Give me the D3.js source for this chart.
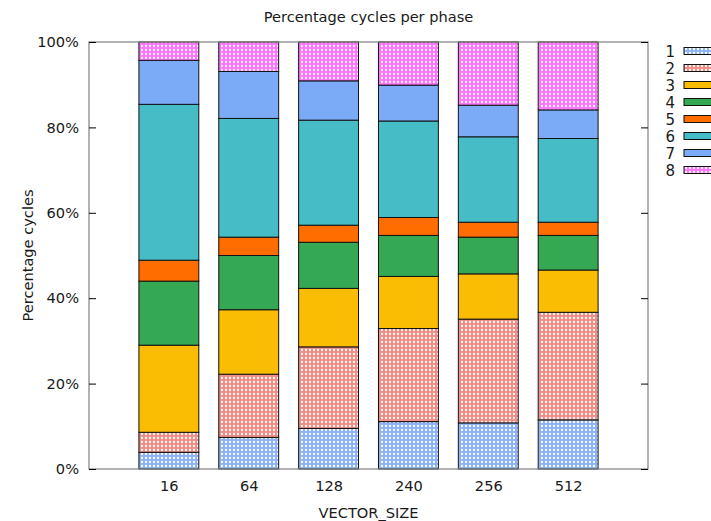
<!DOCTYPE html>
<html>
<head>
<meta charset="utf-8">
<script src="https://cdn.jsdelivr.net/npm/d3@7"></script>
<style>
  body { margin: 0; background: #fff; }
  text { font-family: "DejaVu Sans", sans-serif; fill: #1a1a1a; }
</style>
</head>
<body>
<script>
var sizes = ["16", "64", "128", "240", "256", "512"];
var phases = ["1", "2", "3", "4", "5", "6", "7", "8"];
// percentage of cycles per phase, one array per phase (same order as sizes)
var phase1 = [3.9, 7.4, 9.5, 11.1, 10.8, 11.5];
var phase2 = [4.7, 14.8, 19.1, 21.8, 24.3, 25.2];
var phase3 = [20.4, 15.1, 13.7, 12.2, 10.6, 9.9];
var phase4 = [15.0, 12.7, 10.8, 9.6, 8.6, 8.1];
var phase5 = [4.9, 4.3, 4.0, 4.2, 3.5, 3.1];
var phase6 = [36.5, 27.8, 24.6, 22.6, 20.0, 19.6];
var phase7 = [10.3, 11.0, 9.2, 8.4, 7.4, 6.7];
var phase8 = [4.3, 6.9, 9.1, 10.1, 14.8, 15.9];
var yTicks = [0, 20, 40, 60, 80, 100];

var series = [phase1, phase2, phase3, phase4, phase5, phase6, phase7, phase8];
var colors = ["#4a86f0", "#ea4a3d", "#fbbc04", "#34a853", "#ff6d01", "#46bdc6", "#7baaf7", "#ff22ff"];
var hatched = [true, true, false, false, false, false, false, true];

var width = 711, height = 521;
var plotL = 89, plotR = 648, plotT = 42, plotB = 469;
var fs = "14.6px";

var svg = d3.select("body").append("svg")
            .attr("width", width)
            .attr("height", height);

var defs = svg.append("defs");
colors.forEach(function(c, i) {
  if (!hatched[i]) return;
  var p = defs.append("pattern")
              .attr("id", "hatch" + i)
              .attr("patternUnits", "userSpaceOnUse")
              .attr("width", 4)
              .attr("height", 4);
  p.append("rect").attr("width", 4).attr("height", 4).attr("fill", "#fff");
  p.append("rect").attr("width", 4).attr("height", 4).attr("fill", c).attr("fill-opacity", 0.64);
  p.append("circle").attr("cx", 2).attr("cy", 2).attr("r", 1.15).attr("fill", "#fff");
});

function fillFor(i) { return hatched[i] ? "url(#hatch" + i + ")" : colors[i]; }

var x = d3.scaleLinear().domain([-1, sizes.length]).range([plotL, plotR]);
var y = d3.scaleLinear().domain([0, 100]).range([plotB, plotT]);
var barW = (x(1) - x(0)) * 0.75;

var rows = sizes.map(function(s, j) {
  var r = { size: s };
  phases.forEach(function(p, i) { r[p] = series[i][j]; });
  return r;
});
var stacked = d3.stack().keys(phases)(rows);

var bars = svg.append("g");
stacked.forEach(function(layer, i) {
  bars.selectAll(null)
      .data(layer)
      .enter()
      .append("rect")
      .attr("x", function(d, j) { return x(j) - barW / 2; })
      .attr("y", function(d) { return y(d[1]); })
      .attr("width", barW)
      .attr("height", function(d) { return y(d[0]) - y(d[1]); })
      .attr("fill", fillFor(i))
      .attr("stroke", "#111")
      .attr("stroke-width", 1);
});

// border
svg.append("rect")
   .attr("x", plotL).attr("y", plotT)
   .attr("width", plotR - plotL).attr("height", plotB - plotT)
   .attr("fill", "none").attr("stroke", "#808080").attr("stroke-width", 1.2);

// y axis, ticks inward on both sides
var yAxis = d3.axisLeft(y).tickValues(yTicks).tickSize(-7).tickPadding(10)
              .tickFormat(function(d) { return d + "%"; });
var gy = svg.append("g").attr("transform", "translate(" + plotL + ",0)").call(yAxis);
gy.select(".domain").remove();
gy.selectAll(".tick line").attr("stroke", "#000");
gy.selectAll("text").style("font-size", fs).style("font-family", "DejaVu Sans");

var gy2 = svg.append("g").attr("transform", "translate(" + plotR + ",0)")
             .call(d3.axisRight(y).tickValues(yTicks).tickSize(-7).tickFormat(""));
gy2.select(".domain").remove();
gy2.selectAll(".tick line").attr("stroke", "#000");

// x axis, labels only
var gx = svg.append("g").attr("transform", "translate(0," + plotB + ")")
            .call(d3.axisBottom(x).tickValues(d3.range(sizes.length)).tickSize(0).tickPadding(12)
                    .tickFormat(function(d) { return sizes[d]; }));
gx.select(".domain").remove();
gx.selectAll("text").style("font-size", fs).style("font-family", "DejaVu Sans");

svg.append("text")
   .attr("x", (plotL + plotR) / 2).attr("y", 22)
   .attr("text-anchor", "middle")
   .style("font-size", fs)
   .text("Percentage cycles per phase");

svg.append("text")
   .attr("x", (plotL + plotR) / 2).attr("y", 518)
   .attr("text-anchor", "middle")
   .style("font-size", fs)
   .text("VECTOR_SIZE");

svg.append("text")
   .attr("transform", "translate(33," + (plotT + plotB) / 2 + ") rotate(-90)")
   .attr("text-anchor", "middle")
   .style("font-size", fs)
   .text("Percentage cycles");

// legend
var legend = svg.append("g");
var item = legend.selectAll("g")
                 .data(phases)
                 .enter()
                 .append("g")
                 .attr("transform", function(d, i) { return "translate(0," + (51 + i * 17) + ")"; });
item.append("text")
    .attr("x", 675).attr("y", 5.5)
    .attr("text-anchor", "end")
    .style("font-size", "15px")
    .text(function(d) { return d; });
item.append("rect")
    .attr("x", 684).attr("y", -3.5)
    .attr("width", 40).attr("height", 7)
    .attr("fill", function(d, i) { return fillFor(i); })
    .attr("stroke", "#111").attr("stroke-width", 1);
</script>
</body>
</html>
